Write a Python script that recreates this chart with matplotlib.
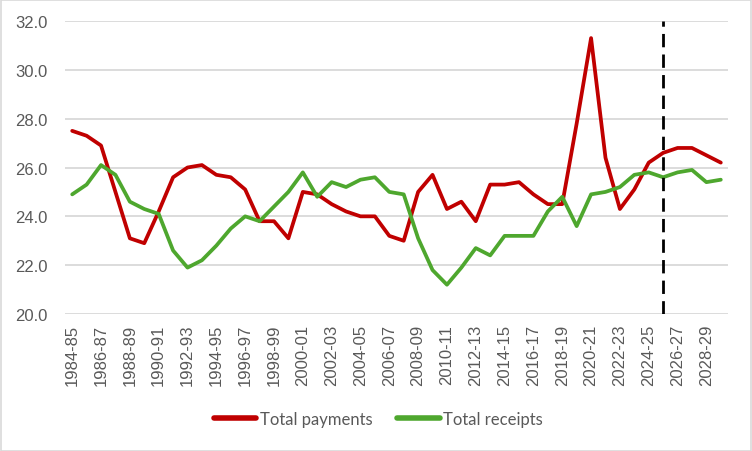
import matplotlib
matplotlib.use("Agg")
import matplotlib.pyplot as plt
from matplotlib.patches import Rectangle

years = [f"{y}-{str(y + 1)[-2:]}" for y in range(1984, 2030)]

payments = [27.5, 27.3, 26.9, 25.0, 23.1, 22.9, 24.2, 25.6, 26.0, 26.1,
            25.7, 25.6, 25.1, 23.8, 23.8, 23.1, 25.0, 24.9, 24.5, 24.2,
            24.0, 24.0, 23.2, 23.0, 25.0, 25.7, 24.3, 24.6, 23.8, 25.3,
            25.3, 25.4, 24.9, 24.5, 24.5, 27.8, 31.3, 26.4, 24.3, 25.1,
            26.2, 26.6, 26.8, 26.8, 26.5, 26.2]

receipts = [24.9, 25.3, 26.1, 25.7, 24.6, 24.3, 24.1, 22.6, 21.9, 22.2,
            22.8, 23.5, 24.0, 23.8, 24.4, 25.0, 25.8, 24.8, 25.4, 25.2,
            25.5, 25.6, 25.0, 24.9, 23.1, 21.8, 21.2, 21.9, 22.7, 22.4,
            23.2, 23.2, 23.2, 24.2, 24.8, 23.6, 24.9, 25.0, 25.2, 25.7,
            25.8, 25.6, 25.8, 25.9, 25.4, 25.5]

forecast_start = "2025-26"
yticks = [20.0, 22.0, 24.0, 26.0, 28.0, 30.0, 32.0]

fig = plt.figure(figsize=(7.52, 4.52), dpi=100)
ax = fig.add_axes([65 / 752, 1 - 315 / 452, 663 / 752, 293 / 452])

x = list(range(len(years)))
red = "#C00000"
green = "#4EA72E"
ax.plot(x, payments, color=red, lw=2.7, solid_capstyle="round",
        solid_joinstyle="round", label="Total payments", zorder=3)
ax.plot(x, receipts, color=green, lw=2.7, solid_capstyle="round",
        solid_joinstyle="round", label="Total receipts", zorder=3)

fx = years.index(forecast_start)
ax.axvline(fx, color="black", lw=2.0, dashes=(4.8, 2.6), zorder=4)

ax.set_xlim(-0.5, len(years) - 0.5)
ax.set_ylim(20, 32)
ax.set_yticks(yticks)
ax.set_yticklabels([f"{v:.1f}" for v in yticks])
ax.set_xticks(x[::2])
ax.set_xticklabels(years[::2], rotation=90)

for lab in ax.get_xticklabels() + ax.get_yticklabels():
    lab.set_fontfamily("Liberation Sans")
    lab.set_fontsize(12)
    lab.set_color("#595959")

ax.tick_params(axis="both", length=0)
ax.tick_params(axis="y", pad=12.5)
ax.tick_params(axis="x", pad=7)
ax.grid(axis="y", color="#D9D9D9", lw=1.3)
ax.set_axisbelow(True)
for s in ax.spines.values():
    s.set_visible(False)

leg = fig.legend(loc="center", bbox_to_anchor=(0.503, 1 - 420 / 452), ncol=2,
                 frameon=False, handlelength=2.55, handletextpad=0.2,
                 columnspacing=1.5, prop=dict(family="Lato", size=12))
for t in leg.get_texts():
    t.set_color("#595959")
for h in leg.get_lines():
    h.set_linewidth(4)

fig.patches.append(Rectangle((0.5 / 752, 0.5 / 452), 1 - 1.5 / 752, 1 - 1.5 / 452,
                             transform=fig.transFigure, fill=False,
                             edgecolor="#D9D9D9", lw=1.2))

fig.savefig("out.png", dpi=100)
